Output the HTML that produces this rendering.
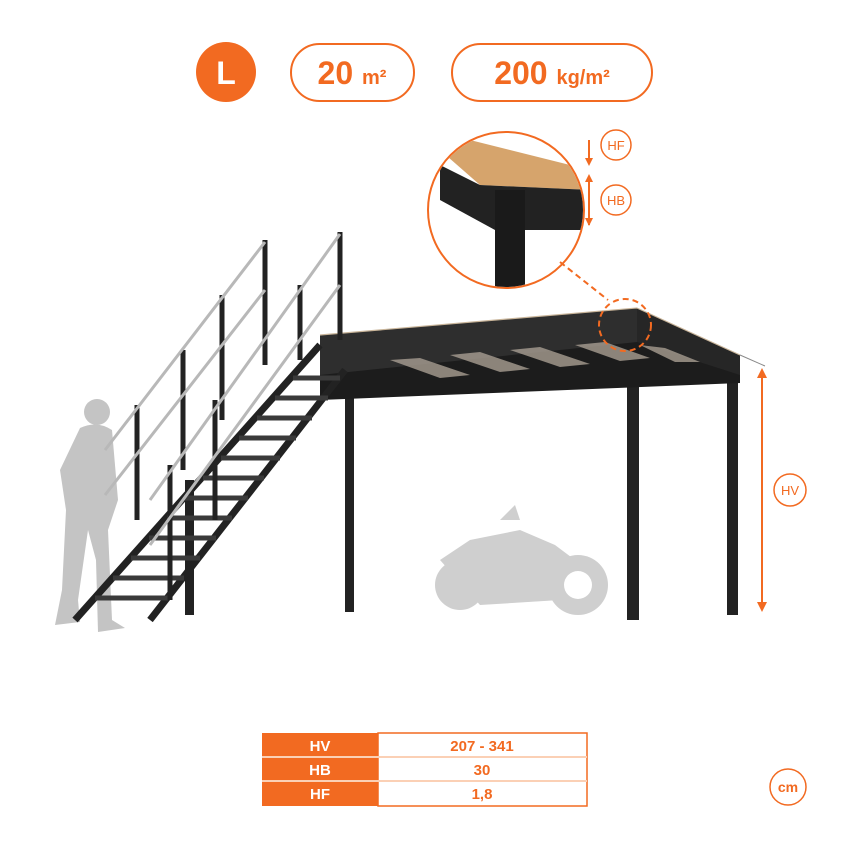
<!DOCTYPE html>
<html><head><style>
body{margin:0;background:#fff;width:850px;height:850px;overflow:hidden;font-family:"Liberation Sans",sans-serif}
</style></head><body>
<svg width="850" height="850" viewBox="0 0 850 850" xmlns="http://www.w3.org/2000/svg" font-family="Liberation Sans, sans-serif">
<!-- badges -->
<circle cx="226" cy="72" r="30" fill="#f26a21"/>
<text x="226" y="84" text-anchor="middle" font-size="32" font-weight="bold" fill="#fff">L</text>
<rect x="291" y="44" width="123" height="57" rx="28.5" fill="none" stroke="#f26a21" stroke-width="2"/>
<text x="352" y="84" text-anchor="middle" fill="#f26a21" font-weight="bold"><tspan font-size="32">20 </tspan><tspan font-size="20">m²</tspan></text>
<rect x="452" y="44" width="200" height="57" rx="28.5" fill="none" stroke="#f26a21" stroke-width="2"/>
<text x="552" y="84" text-anchor="middle" fill="#f26a21" font-weight="bold"><tspan font-size="32">200 </tspan><tspan font-size="20">kg/m²</tspan></text>

<!-- person silhouette -->
<g fill="#c4c4c4">
<circle cx="97" cy="412" r="13"/>
<path d="M80 428 Q97 420 112 430 L118 500 L108 530 L112 620 L125 628 L98 632 L96 560 L88 530 L78 600 L80 622 L55 625 L62 590 L66 510 L60 470 Z"/>
</g>
<!-- motorbike -->
<g fill="#cfcfcf">
<circle cx="578" cy="585" r="30"/>
<circle cx="460" cy="585" r="25"/>
<path d="M440 560 L470 540 L520 530 L555 545 L575 560 L560 600 L480 605 Z"/>
<path d="M500 520 L515 505 L520 520 Z"/>
</g>
<circle cx="578" cy="585" r="14" fill="#fff"/>

<!-- legs -->
<g fill="#222">
<rect x="345" y="390" width="9" height="222"/>
<rect x="627" y="310" width="12" height="310"/>
<rect x="727" y="375" width="11" height="240"/>
<rect x="185" y="480" width="9" height="135"/>
</g>
<!-- platform -->
<polygon points="320,335 637,308 740,355 740,383 320,400" fill="#1c1c1c"/>
<polygon points="320,335 637,308 637,342 320,375" fill="#2e2e2e"/>
<polygon points="637,308 740,355 740,375 637,342" fill="#262626"/>
<g fill="#a89e92" opacity="0.8">
<polygon points="390,360 420,358 470,375 440,378"/>
<polygon points="450,355 480,352 530,369 500,372"/>
<polygon points="510,350 540,347 590,364 560,367"/>
<polygon points="575,345 605,342 650,358 620,361"/>
<polygon points="640,345 665,348 700,362 675,362"/>
</g>
<line x1="320" y1="335" x2="637" y2="308" stroke="#c9b59a" stroke-width="1.2"/>
<line x1="637" y1="308" x2="740" y2="355" stroke="#c9b59a" stroke-width="1.2"/>
<line x1="740" y1="355" x2="765" y2="366" stroke="#888" stroke-width="1"/>

<!-- stairs -->
<g stroke="#222" stroke-width="7" fill="none">
<line x1="75" y1="620" x2="320" y2="345"/>
<line x1="150" y1="620" x2="345" y2="370"/>
</g>
<g stroke="#3a3a3a" stroke-width="5">
<line x1="95" y1="598" x2="168" y2="598"/><line x1="113" y1="578" x2="184" y2="578"/>
<line x1="131" y1="558" x2="200" y2="558"/><line x1="149" y1="538" x2="216" y2="538"/>
<line x1="167" y1="518" x2="232" y2="518"/><line x1="185" y1="498" x2="248" y2="498"/>
<line x1="203" y1="478" x2="264" y2="478"/><line x1="221" y1="458" x2="280" y2="458"/>
<line x1="239" y1="438" x2="296" y2="438"/><line x1="257" y1="418" x2="312" y2="418"/>
<line x1="275" y1="398" x2="328" y2="398"/><line x1="293" y1="378" x2="340" y2="378"/>
</g>
<!-- railings -->
<g stroke="#222" stroke-width="5">
<line x1="137" y1="405" x2="137" y2="520"/><line x1="183" y1="350" x2="183" y2="470"/>
<line x1="222" y1="295" x2="222" y2="420"/><line x1="265" y1="240" x2="265" y2="365"/>
<line x1="300" y1="285" x2="300" y2="360"/><line x1="340" y1="232" x2="340" y2="340"/>
<line x1="215" y1="400" x2="215" y2="520"/><line x1="170" y1="465" x2="170" y2="600"/>
</g>
<g stroke="#b8b8b8" stroke-width="3">
<line x1="105" y1="450" x2="265" y2="242"/><line x1="105" y1="495" x2="265" y2="290"/>
<line x1="150" y1="500" x2="340" y2="234"/><line x1="150" y1="545" x2="340" y2="285"/>
</g>

<!-- inset -->
<circle cx="506" cy="210" r="78" fill="#fff" stroke="#f26a21" stroke-width="2"/>
<clipPath id="c"><circle cx="506" cy="210" r="77"/></clipPath>
<g clip-path="url(#c)">
<polygon points="440,150 470,140 590,170 590,190 480,185" fill="#d6a46c"/>
<polygon points="440,165 480,185 590,190 590,230 495,230 440,200" fill="#222"/>
<rect x="495" y="190" width="30" height="100" fill="#1a1a1a"/>
</g>
<g stroke="#f26a21" stroke-width="2" fill="#f26a21">
<line x1="589" y1="140" x2="589" y2="160"/><polygon points="585,158 593,158 589,166" stroke="none"/>
<line x1="589" y1="176" x2="589" y2="225"/>
<polygon points="585,182 593,182 589,174" stroke="none"/><polygon points="585,218 593,218 589,226" stroke="none"/>
</g>
<circle cx="616" cy="145" r="15" fill="#fff" stroke="#f26a21" stroke-width="1.5"/>
<text x="616" y="150" text-anchor="middle" font-size="13" fill="#f26a21">HF</text>
<circle cx="616" cy="200" r="15" fill="#fff" stroke="#f26a21" stroke-width="1.5"/>
<text x="616" y="205" text-anchor="middle" font-size="13" fill="#f26a21">HB</text>
<line x1="560" y1="262" x2="608" y2="300" stroke="#f26a21" stroke-width="2" stroke-dasharray="6,4"/>
<circle cx="625" cy="325" r="26" fill="none" stroke="#f26a21" stroke-width="2" stroke-dasharray="6,4"/>

<!-- HV -->
<line x1="762" y1="375" x2="762" y2="605" stroke="#f26a21" stroke-width="2"/>
<polygon points="757,378 767,378 762,368" fill="#f26a21"/>
<polygon points="757,602 767,602 762,612" fill="#f26a21"/>
<circle cx="790" cy="490" r="16" fill="#fff" stroke="#f26a21" stroke-width="1.5"/>
<text x="790" y="495" text-anchor="middle" font-size="13" fill="#f26a21">HV</text>

<!-- table -->
<g font-weight="bold" font-size="15" text-anchor="middle">
<rect x="262" y="733" width="116" height="73" fill="#f26a21"/>
<rect x="378" y="733" width="209" height="73" fill="#fff" stroke="#f26a21" stroke-width="1.5"/>
<line x1="262" y1="757" x2="587" y2="757" stroke="#fbd0b5" stroke-width="2"/>
<line x1="262" y1="781" x2="587" y2="781" stroke="#fbd0b5" stroke-width="2"/>
<text x="320" y="751" fill="#fff">HV</text><text x="482" y="751" fill="#f26a21">207 - 341</text>
<text x="320" y="775" fill="#fff">HB</text><text x="482" y="775" fill="#f26a21">30</text>
<text x="320" y="799" fill="#fff">HF</text><text x="482" y="799" fill="#f26a21">1,8</text>
</g>
<circle cx="788" cy="787" r="18" fill="#fff" stroke="#f26a21" stroke-width="1.5"/>
<text x="788" y="792" text-anchor="middle" font-size="14" font-weight="bold" fill="#f26a21">cm</text>
</svg>
</body></html>
